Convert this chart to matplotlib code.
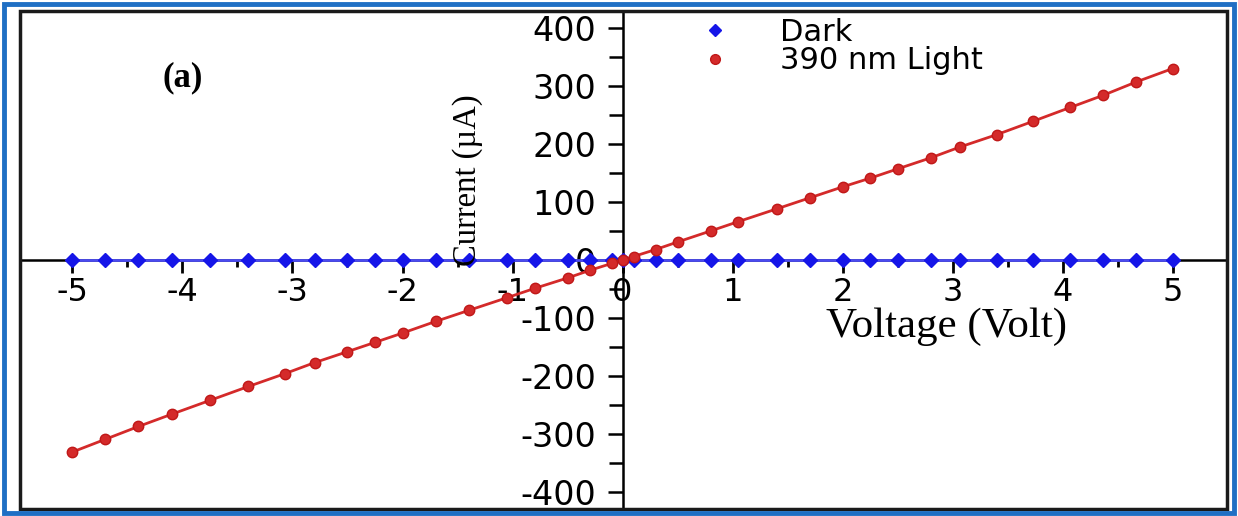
import matplotlib
matplotlib.use("Agg")
import matplotlib.pyplot as plt
from matplotlib.lines import Line2D
from matplotlib.patches import Rectangle
from matplotlib.ticker import MultipleLocator

plt.rcParams["axes.unicode_minus"] = False

# ---- data ----
voltage = [-5, -4.7, -4.4, -4.1, -3.75, -3.4, -3.07, -2.8, -2.5, -2.25, -2.0, -1.7,
           -1.4, -1.05, -0.8, -0.5, -0.3, -0.1, 0, 0.1, 0.3, 0.5, 0.8, 1.05, 1.4,
           1.7, 2.0, 2.25, 2.5, 2.8, 3.07, 3.4, 3.73, 4.07, 4.37, 4.67, 5.0]
dark_current = [0] * len(voltage)
light_current = [-331, -309, -287, -266, -242, -218, -196, -177, -158, -142, -126, -106,
                 -87, -65, -49, -31, -18, -6, 0, 6, 18, 31, 50, 66, 88,
                 107, 126, 141, 157, 176, 195, 216, 239, 263, 284, 307, 330]
x_ticks = [-5, -4, -3, -2, -1, 0, 1, 2, 3, 4, 5]
y_ticks = [-400, -300, -200, -100, 0, 100, 200, 300, 400]
legend_labels = ["Dark", "390 nm Light"]

W, H = 1238, 516
fig = plt.figure(figsize=(W / 100, H / 100), dpi=100)

# axes occupy the black frame
fl, fr, ft, fb = 19.5, 1227, 11, 509
ax = fig.add_axes([fl / W, 1 - fb / H, (fr - fl) / W, (fb - ft) / H])
x0, xs = 622.5, 110.0
y0, ys = 260.0, 0.58
ax.set_xlim((fl - x0) / xs, (fr - x0) / xs)
ax.set_ylim(-(fb - y0) / ys, (y0 - ft) / ys)

blue = "#1515e8"
red = "#d42a2a"
ax.plot(voltage, dark_current, color="#4b4bf0", lw=2.0, marker="D", ms=7,
        mfc=blue, mec=blue, zorder=3)
ax.plot(voltage, light_current, color=red, lw=2.0, marker="o", ms=7.5,
        mfc=red, mec="#c01818", zorder=4)

# centered spines
for s in ["top", "right"]:
    ax.spines[s].set_visible(False)
ax.spines["left"].set_position(("data", 0))
ax.spines["bottom"].set_position(("data", 0))
for s in ["left", "bottom"]:
    ax.spines[s].set_linewidth(1.8)
    ax.spines[s].set_color("black")

ax.set_xticks(x_ticks)
ax.set_yticks(y_ticks)
ax.xaxis.set_minor_locator(MultipleLocator(0.5))
ax.yaxis.set_minor_locator(MultipleLocator(50))
ax.tick_params(axis="x", which="major", direction="out", length=9, width=2, pad=3,
               labelsize=23)
ax.tick_params(axis="x", which="minor", direction="out", length=5, width=2)
ax.tick_params(axis="y", which="major", direction="out", length=11, width=1.8, pad=8,
               labelsize=24)
ax.tick_params(axis="y", which="minor", direction="out", length=10, width=1.8)
for lab in ax.get_xticklabels() + ax.get_yticklabels():
    lab.set_family("DejaVu Sans")

# frame
ax.add_patch(Rectangle((0, 0), 1, 1, transform=ax.transAxes, fill=False,
                       lw=2.5, ec="#1a1a1a", clip_on=False, zorder=10))

# outer blue border
fig.patches.append(Rectangle((4 / W, 3 / H), 1 - 8 / W, 1 - 6.5 / H,
                             transform=fig.transFigure, fill=False,
                             lw=3.5, ec="#1f6fc4", zorder=0))

# labels
fig.text(947 / W, 1 - 327 / H, "Voltage (Volt)", family="Liberation Serif",
         fontsize=31, ha="center", va="center")
fig.text(468 / W, 1 - 180 / H, "Current (\u00b5A)", family="Liberation Serif",
         fontsize=23.5, ha="center", va="center", rotation=90)
fig.text(183 / W, 1 - 78 / H, "(a)", family="Liberation Serif", fontweight="bold",
         fontsize=25, ha="center", va="center")

# legend
handles = [Line2D([], [], ls="none", marker="D", ms=6, mfc=blue, mec=blue),
           Line2D([], [], ls="none", marker="o", ms=7, mfc=red, mec="#c01818")]
leg = ax.legend(handles, legend_labels, loc="upper left",
                bbox_to_anchor=(697 / W, 1 - 18 / H), bbox_transform=fig.transFigure,
                frameon=False, fontsize=22, handlelength=1.2, handletextpad=1.5,
                labelspacing=-0.02, borderpad=0, borderaxespad=0)
for t in leg.get_texts():
    t.set_family("DejaVu Sans")

fig.savefig("out.png", dpi=100)
